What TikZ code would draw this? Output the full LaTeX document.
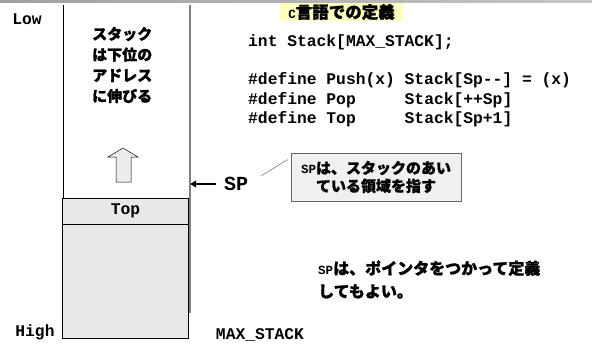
\documentclass[tikz,border=0pt]{standalone}
\usepackage{fontspec}
\setmonofont{Liberation Mono}
\newfontfamily\jpfont{Noto Sans CJK JP}[BoldFeatures={FakeBold=1.2}]
\usetikzlibrary{positioning,arrows.meta}
\definecolor{memo}{HTML}{FFFFC0}
\definecolor{cellgray}{HTML}{E8E8E8}
\definecolor{edge}{HTML}{808080}

% small Courier letters inside the Japanese lines
\newcommand{\smallsp}[1]{{\ttfamily\bfseries\fontsize{12.5}{12.5}\selectfont #1}}

\tikzset{
  codefont/.style={font=\ttfamily\bfseries\fontsize{16.3}{20}\selectfont},
  jp/.style={font=\jpfont\bfseries\fontsize{15}{20.7}\selectfont},
  cell/.style={draw, fill=cellgray, line width=0.6pt, minimum width=126pt, inner sep=0pt},
  note/.style={draw=gray!80!black, fill=gray!12, line width=0.8pt, minimum width=170pt,
               minimum height=48pt, align=center, inner sep=0pt},
  ptr/.style={-{Triangle[length=6pt,width=7pt]}, line width=2.6pt},
}

\begin{document}
\begin{tikzpicture}[x=1pt,y=-1pt]
\useasboundingbox (0,0) rectangle (592,345);
% rule along the top
\shade[left color=gray!75, right color=gray!45] (0,0) rectangle (592,3);

% the stack: free part on top, used part below
\node[minimum width=127pt, minimum height=193pt, inner sep=0pt] (free) at (126.5,101.5) {};
\draw[edge, line width=1.6pt] (free.north east) -- ++(0,308);
\draw[line width=0.6pt] (free.north west) -- (free.south west);
\node[cell, minimum height=26pt, codefont] (top) at (125.5,211) {Top};
\node[cell, minimum height=114pt, below=0pt of top] (rest) {};

\node[jp, align=left, anchor=west, inner sep=0pt] (grow) at (92,65)
  {スタック\\は下位の\\アドレス\\に伸びる};
\draw[fill=gray!15, line width=0.5pt] (116,182) -- (116,157) -- (108,157) -- (123,148)
  -- (138,157) -- (131,157) -- (131,182) -- cycle;

\node[codefont] (low) at (27,19) {Low};
\node[codefont] (high) at (35,332) {High};
\node[codefont] (max) at (260,335) {MAX\_STACK};

% stack pointer
\node[font=\ttfamily\bfseries\fontsize{20}{20}\selectfont] (sp) at (236,184) {SP};
\draw[ptr] ([xshift=-4pt]sp.west) -- (free.east |- sp.west);

% C definitions
\node[fill=memo, font=\jpfont\bfseries\fontsize{16.5}{18}\selectfont, minimum width=123pt,
      minimum height=18pt, inner sep=0pt] (title) at (341.5,12) {\smallsp{C}言語での定義};
\node[codefont, anchor=west, inner sep=0pt] (decl) at (248,42) {int Stack[MAX\_STACK];};
\node[codefont, anchor=west, inner sep=0pt] (defs) at (248,100) {%
  \begin{tabular}{@{}l@{\ }l@{}}
  \#define Push(x) & Stack[Sp--] = (x)\\
  \#define Pop     & Stack[++Sp]\\
  \#define Top     & Stack[Sp+1]
  \end{tabular}};

\node[note, jp, font=\jpfont\bfseries\fontsize{15}{18}\selectfont] (note) at (376,177)
  {\smallsp{SP}は、スタックのあい\\ている領域を指す};
\draw[line width=0.4pt, gray!60!black] ([xshift=10pt,yshift=-2pt]sp.north east)
  -- ([xshift=-3pt,yshift=-7pt]note.north west);

\node[jp, font=\jpfont\bfseries\fontsize{16}{23}\selectfont, align=left, anchor=west,
      inner sep=0pt] (remark) at (318,279.5)
  {\smallsp{SP}は、ポインタをつかって定義\\してもよい。};
\end{tikzpicture}
\end{document}
